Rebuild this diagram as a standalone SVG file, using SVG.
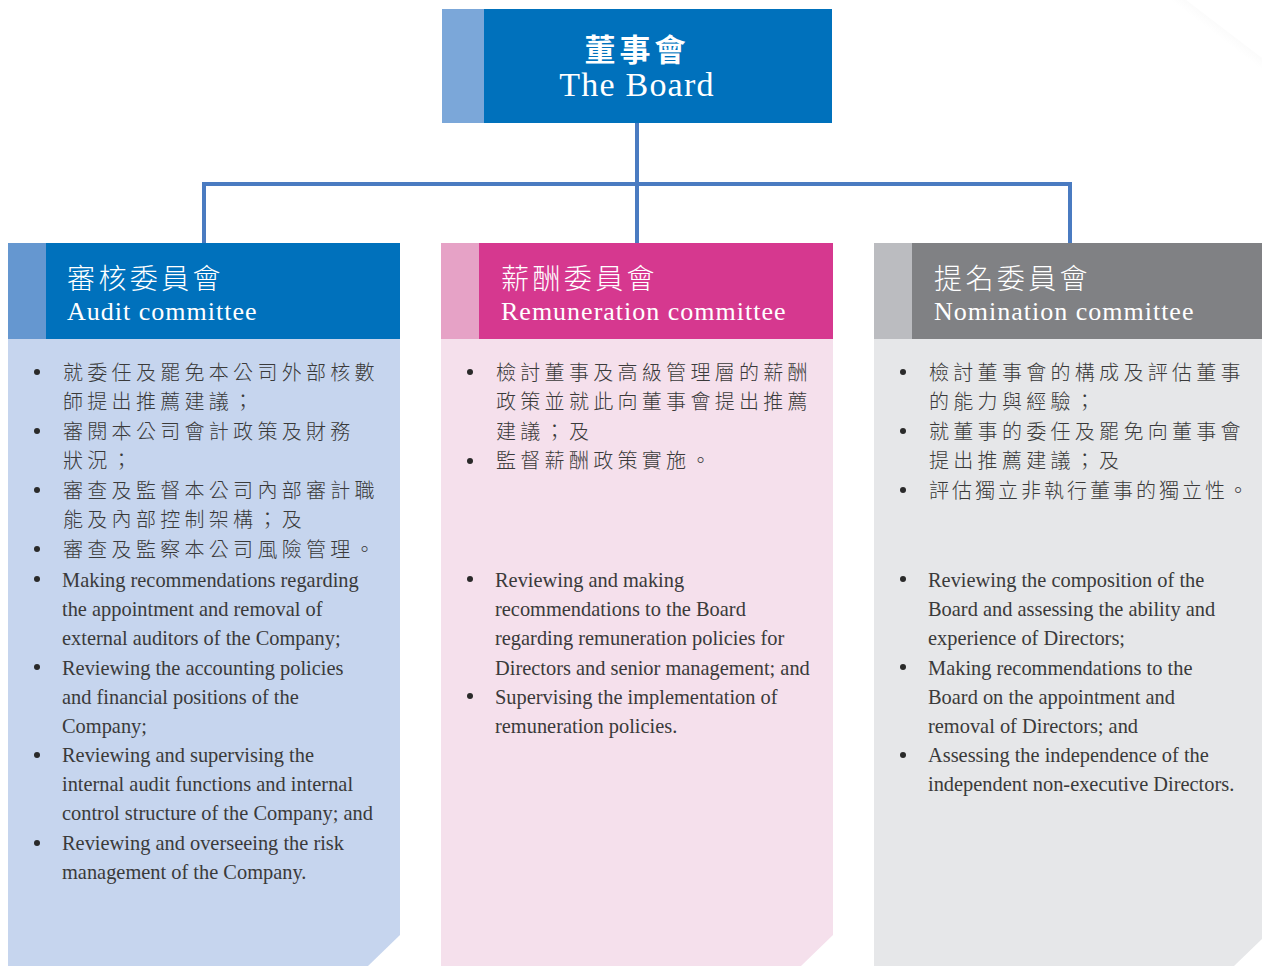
<svg xmlns="http://www.w3.org/2000/svg" width="1262" height="966" viewBox="0 0 1262 966">
<defs>
<linearGradient id="curl" x1="0" y1="0" x2="1" y2="-1">
<stop offset="0" stop-color="#ffffff"/>
<stop offset="0.5" stop-color="#e9e9e9"/>
<stop offset="1" stop-color="#ffffff"/>
</linearGradient>
</defs>
<style>
.zh{font-family:"Noto Sans CJK TC","Noto Sans CJK SC",sans-serif;}
.en{font-family:"Liberation Serif","Times New Roman",serif;}
.hzh{font-size:28px;letter-spacing:3.4px;fill:#ffffff;font-weight:300;}
.hen{font-size:26px;letter-spacing:1px;fill:#ffffff;}
.bzh{font-size:20px;letter-spacing:4.3px;fill:#3a3a3a;font-weight:300;}
.ben{font-size:20.4px;fill:#3a3a3a;}
.dot{fill:#2a2a2a;}
.conn{fill:none;stroke:#4a7bc1;stroke-width:4;}
</style>
<rect x="0" y="0" width="1262" height="966" fill="#ffffff"/>
<polygon points="1170,0 1186,0 1262,58 1262,70" fill="url(#curl)"/>

<g id="connectors">
<path class="conn" d="M637,123 V243"/>
<path class="conn" d="M204,243 V184 H1070 V243"/>
</g>

<g id="board">
<rect x="442" y="9" width="390" height="114" fill="#0071bc"/>
<rect x="442" y="9" width="42" height="114" fill="#7ba7d9"/>
<text class="zh" x="637" y="61" text-anchor="middle" font-size="31" font-weight="bold" letter-spacing="4" fill="#ffffff">董事會</text>
<text class="en" x="637" y="96" text-anchor="middle" font-size="34" letter-spacing="1.2" fill="#ffffff">The Board</text>
</g>

<g id="audit">
<polygon points="8,339 400,339 400,935 368,966 8,966" fill="#c6d5ee"/>
<rect x="8" y="243" width="392" height="96" fill="#0071bc"/>
<rect x="8" y="243" width="38" height="96" fill="#6597d0"/>
<text class="zh hzh" x="67" y="289">審核委員會</text>
<text class="en hen" x="67" y="320">Audit committee</text>
<circle class="dot" cx="37" cy="372" r="3"/>
<circle class="dot" cx="37" cy="431" r="3"/>
<circle class="dot" cx="37" cy="490" r="3"/>
<circle class="dot" cx="37" cy="549" r="3"/>
<text class="zh bzh">
<tspan x="63" y="379.5">就委任及罷免本公司外部核數</tspan>
<tspan x="63" y="409">師提出推薦建議；</tspan>
<tspan x="63" y="438.5">審閱本公司會計政策及財務</tspan>
<tspan x="63" y="468">狀況；</tspan>
<tspan x="63" y="497.5">審查及監督本公司內部審計職</tspan>
<tspan x="63" y="527">能及內部控制架構；及</tspan>
<tspan x="63" y="556.5">審查及監察本公司風險管理。</tspan>
</text>
<circle class="dot" cx="37" cy="579" r="3"/>
<circle class="dot" cx="37" cy="667" r="3"/>
<circle class="dot" cx="37" cy="755" r="3"/>
<circle class="dot" cx="37" cy="843" r="3"/>
<text class="en ben">
<tspan x="62" y="587">Making recommendations regarding</tspan>
<tspan x="62" y="616">the appointment and removal of</tspan>
<tspan x="62" y="645">external auditors of the Company;</tspan>
<tspan x="62" y="674.5">Reviewing the accounting policies</tspan>
<tspan x="62" y="703.5">and financial positions of the</tspan>
<tspan x="62" y="732.5">Company;</tspan>
<tspan x="62" y="762">Reviewing and supervising the</tspan>
<tspan x="62" y="791">internal audit functions and internal</tspan>
<tspan x="62" y="820">control structure of the Company; and</tspan>
<tspan x="62" y="849.5">Reviewing and overseeing the risk</tspan>
<tspan x="62" y="879">management of the Company.</tspan>
</text>
</g>

<g id="remuneration">
<polygon points="441,339 833,339 833,935 801,966 441,966" fill="#f5e0ec"/>
<rect x="441" y="243" width="392" height="96" fill="#d6388f"/>
<rect x="441" y="243" width="38" height="96" fill="#e6a2c6"/>
<text class="zh hzh" x="501" y="289">薪酬委員會</text>
<text class="en hen" x="501" y="320">Remuneration committee</text>
<circle class="dot" cx="470" cy="372" r="3"/>
<circle class="dot" cx="470" cy="461" r="3"/>
<text class="zh bzh">
<tspan x="496" y="379.5">檢討董事及高級管理層的薪酬</tspan>
<tspan x="496" y="409">政策並就此向董事會提出推薦</tspan>
<tspan x="496" y="438.5">建議；及</tspan>
<tspan x="496" y="468">監督薪酬政策實施。</tspan>
</text>
<circle class="dot" cx="470" cy="579" r="3"/>
<circle class="dot" cx="470" cy="696" r="3"/>
<text class="en ben">
<tspan x="495" y="587">Reviewing and making</tspan>
<tspan x="495" y="616">recommendations to the Board</tspan>
<tspan x="495" y="645">regarding remuneration policies for</tspan>
<tspan x="495" y="674.5">Directors and senior management; and</tspan>
<tspan x="495" y="703.5">Supervising the implementation of</tspan>
<tspan x="495" y="732.5">remuneration policies.</tspan>
</text>
</g>

<g id="nomination">
<polygon points="874,339 1266,339 1266,935 1234,966 874,966" fill="#e6e7e9"/>
<rect x="874" y="243" width="392" height="96" fill="#808184"/>
<rect x="874" y="243" width="38" height="96" fill="#bbbcc0"/>
<text class="zh hzh" x="934" y="289">提名委員會</text>
<text class="en hen" x="934" y="320">Nomination committee</text>
<circle class="dot" cx="903" cy="372" r="3"/>
<circle class="dot" cx="903" cy="431" r="3"/>
<circle class="dot" cx="903" cy="490" r="3"/>
<text class="zh bzh">
<tspan x="929" y="379.5">檢討董事會的構成及評估董事</tspan>
<tspan x="929" y="409">的能力與經驗；</tspan>
<tspan x="929" y="438.5">就董事的委任及罷免向董事會</tspan>
<tspan x="929" y="468">提出推薦建議；及</tspan>
<tspan x="929" y="497.5" letter-spacing="3">評估獨立非執行董事的獨立性。</tspan>
</text>
<circle class="dot" cx="903" cy="579" r="3"/>
<circle class="dot" cx="903" cy="667" r="3"/>
<circle class="dot" cx="903" cy="755" r="3"/>
<text class="en ben">
<tspan x="928" y="587">Reviewing the composition of the</tspan>
<tspan x="928" y="616">Board and assessing the ability and</tspan>
<tspan x="928" y="645">experience of Directors;</tspan>
<tspan x="928" y="674.5">Making recommendations to the</tspan>
<tspan x="928" y="703.5">Board on the appointment and</tspan>
<tspan x="928" y="732.5">removal of Directors; and</tspan>
<tspan x="928" y="762">Assessing the independence of the</tspan>
<tspan x="928" y="791">independent non-executive Directors.</tspan>
</text>
</g>
</svg>
